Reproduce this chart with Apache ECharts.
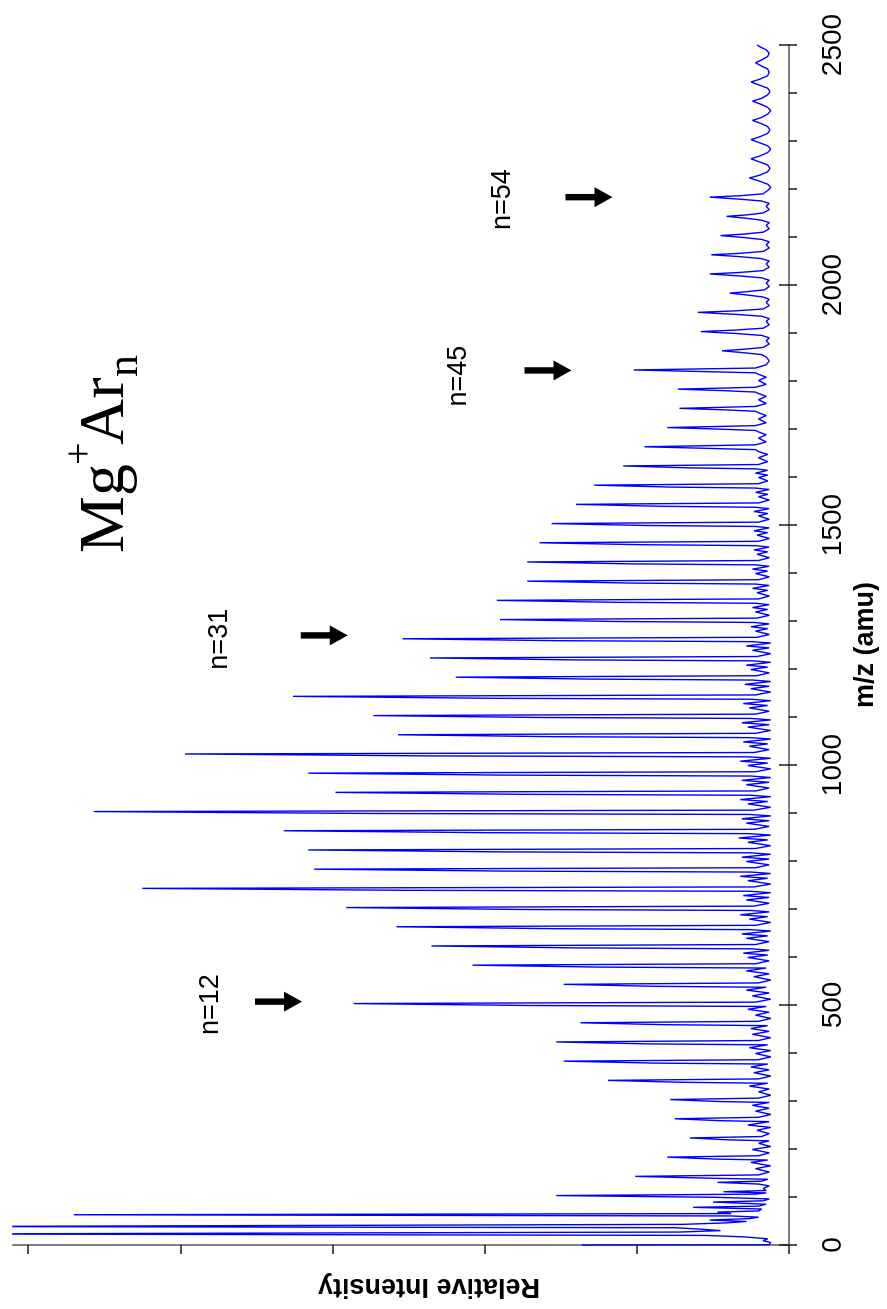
<!DOCTYPE html>
<html>
<head>
<meta charset="utf-8">
<title>Mg+Ar_n mass spectrum</title>
<script src="https://cdn.jsdelivr.net/npm/echarts/dist/echarts.min.js"></script>
<style>
  html, body { margin: 0; padding: 0; background: #fff; overflow: hidden; }
  body { width: 887px; height: 1309px; position: relative; }
  /* the figure is a normal spectrum turned a quarter turn anticlockwise */
  #main {
    position: absolute; left: 0; top: 0;
    width: 1309px; height: 887px;
    transform-origin: 0 0;
    transform: translate(0, 1309px) rotate(-90deg);
  }
</style>
</head>
<body>
<div id="main"></div>
<script>
// m/z axis ticks and intensity ticks (intensity in tick units, axis is unlabeled)
const mzTicks = [0, 500, 1000, 1500, 2000, 2500];
const intensityTicks = [0, 1, 2, 3, 4, 5];

// spectrum trace, [m/z, relative intensity]
const traceLow = [
  [0, 1.36], [0.6, 0.13], [5, 0.12], [9, 0.17], [13, 0.14], [17, 0.3], [20, 0.55],
  [23, 5.6], [25, 5.6], [27, 0.72], [30, 0.45], [33, 0.58], [36, 0.75],
  [38.5, 5.6], [40.5, 5.6], [43, 0.7], [46, 0.42], [49, 0.28], [52, 0.52], [55, 0.26],
  [58, 0.2], [60.5, 0.38], [63, 4.70], [65.5, 0.38], [68.5, 0.47], [71, 0.2], [75, 0.18],
  [78.5, 0.63], [81, 0.2], [85, 0.15], [89.5, 0.5], [92, 0.17], [96, 0.13], [99.5, 0.5],
  [103, 1.53], [106, 0.22], [108.5, 0.15], [111, 0.43], [113.5, 0.15], [118, 0.17],
  [123, 0.13], [127, 0.2], [130.5, 0.47], [133, 0.18], [137, 0.14], [139, 0.5],
  [143, 1.01], [146, 0.2]
];

const traceMidLow = [
  [152, 0.13], [159, 0.22], [165, 0.12], [172, 0.25], [177, 0.14], [179, 0.48], [183, 0.80], [186, 0.2],
  [192, 0.13], [199, 0.24], [205, 0.12], [212, 0.2], [217, 0.13], [219, 0.39], [223, 0.65], [226, 0.18],
  [232, 0.13], [239, 0.21], [245, 0.12], [250, 0.27], [257, 0.13], [259, 0.45], [263, 0.75], [266, 0.2],
  [272, 0.12], [279, 0.22], [285, 0.13], [291, 0.24], [297, 0.13], [299, 0.47], [303, 0.78], [306, 0.2],
  [312, 0.12], [319, 0.2], [325, 0.13], [331, 0.26], [337, 0.14], [339, 0.71], [343, 1.19], [346, 0.2],
  [352, 0.12], [359, 0.23], [365, 0.13], [371, 0.25], [377, 0.14], [379, 0.89], [383, 1.48], [386, 0.2],
  [392, 0.12], [399, 0.22], [405, 0.12], [411, 0.26], [417, 0.14], [419, 0.92], [423, 1.53], [426, 0.2],
  [432, 0.12], [439, 0.24], [445, 0.13], [451, 0.25], [457, 0.14], [459, 0.82], [463, 1.37], [466, 0.2],
  [472, 0.12], [479, 0.22], [485, 0.13], [491, 0.27], [497, 0.15], [499, 1.72], [503, 2.86], [506, 0.22],
  [512, 0.12], [519, 0.24], [525, 0.13], [531, 0.28], [537, 0.15], [539, 0.89], [543, 1.48], [546, 0.2],
  [552, 0.12], [559, 0.23], [565, 0.13], [571, 0.28], [577, 0.15], [579, 1.25], [583, 2.08], [586, 0.22]
];

const traceMid = [
  [592, 0.13], [599, 0.27], [604, 0.14], [608, 0.3], [614, 0.13], [617, 0.24], [619, 1.41], [623, 2.35], [626, 0.22],
  [632, 0.13], [639, 0.28], [644, 0.14], [648, 0.31], [654, 0.12], [657, 0.25], [659, 1.55], [663, 2.58], [666, 0.22],
  [672, 0.12], [679, 0.26], [684, 0.14], [688, 0.32], [694, 0.13], [697, 0.25], [699, 1.75], [703, 2.91], [706, 0.23],
  [712, 0.13], [719, 0.28], [724, 0.13], [728, 0.3], [734, 0.12], [737, 0.26], [739, 2.55], [743, 4.25], [746, 0.23],
  [752, 0.12], [759, 0.27], [764, 0.14], [768, 0.32], [774, 0.12], [777, 0.25], [779, 1.87], [783, 3.12], [786, 0.22],
  [792, 0.13], [799, 0.28], [804, 0.13], [808, 0.31], [814, 0.12], [817, 0.25], [819, 1.90], [823, 3.16], [826, 0.22],
  [832, 0.12], [839, 0.27], [844, 0.14], [848, 0.33], [854, 0.12], [857, 0.26], [859, 1.99], [863, 3.32], [866, 0.23],
  [872, 0.13], [879, 0.28], [884, 0.13], [888, 0.31], [894, 0.12], [897, 0.26], [899, 2.74], [903, 4.57], [906, 0.23],
  [912, 0.12], [919, 0.27], [924, 0.14], [928, 0.32], [934, 0.12], [937, 0.25], [939, 1.79], [943, 2.98], [946, 0.22],
  [952, 0.13], [959, 0.28], [964, 0.13], [968, 0.31], [974, 0.12], [977, 0.25], [979, 1.90], [983, 3.16], [986, 0.22],
  [992, 0.12], [999, 0.27], [1004, 0.14], [1008, 0.32], [1014, 0.12], [1017, 0.26], [1019, 2.38], [1023, 3.97], [1026, 0.23],
  [1032, 0.13], [1039, 0.26], [1044, 0.14], [1048, 0.3], [1054, 0.12], [1057, 0.25], [1059, 1.54], [1063, 2.57], [1066, 0.22],
  [1072, 0.12], [1079, 0.27], [1084, 0.13], [1088, 0.31], [1094, 0.12], [1097, 0.25], [1099, 1.64], [1103, 2.73], [1106, 0.22],
  [1112, 0.13], [1119, 0.26], [1124, 0.14], [1128, 0.3], [1134, 0.12], [1137, 0.25], [1139, 1.96], [1143, 3.26], [1146, 0.22],
  [1152, 0.12], [1159, 0.25], [1164, 0.13], [1168, 0.29], [1174, 0.12], [1177, 0.24], [1179, 1.31], [1183, 2.19], [1186, 0.21],
  [1192, 0.13], [1199, 0.25], [1204, 0.14], [1208, 0.28], [1214, 0.12], [1217, 0.24], [1219, 1.42], [1223, 2.36], [1226, 0.21],
  [1232, 0.12], [1239, 0.24], [1244, 0.13], [1248, 0.28], [1254, 0.12], [1257, 0.24], [1259, 1.52], [1263, 2.54], [1266, 0.21],
  [1272, 0.13], [1279, 0.22], [1284, 0.14], [1288, 0.25], [1294, 0.13], [1297, 0.23], [1299, 1.14], [1303, 1.90], [1306, 0.21],
  [1312, 0.13], [1319, 0.22], [1324, 0.14], [1328, 0.24], [1334, 0.13], [1337, 0.22], [1339, 1.15], [1343, 1.92], [1346, 0.2],
  [1352, 0.13], [1359, 0.21], [1364, 0.14], [1368, 0.24], [1374, 0.13], [1377, 0.22], [1379, 1.03], [1383, 1.72], [1386, 0.2],
  [1392, 0.13], [1399, 0.22], [1404, 0.14], [1408, 0.24], [1414, 0.13], [1417, 0.22], [1419, 1.03], [1423, 1.72], [1426, 0.2],
  [1432, 0.13], [1439, 0.21], [1444, 0.14], [1448, 0.23], [1454, 0.13], [1457, 0.22], [1459, 0.98], [1463, 1.64], [1466, 0.2],
  [1472, 0.13], [1479, 0.21], [1484, 0.14], [1488, 0.23], [1494, 0.13], [1497, 0.22], [1499, 0.94], [1503, 1.56], [1506, 0.2],
  [1512, 0.13], [1519, 0.2], [1524, 0.14], [1528, 0.23], [1534, 0.13], [1537, 0.22], [1539, 0.84], [1543, 1.40], [1546, 0.2],
  [1552, 0.13], [1559, 0.2], [1564, 0.14], [1568, 0.22], [1574, 0.13], [1577, 0.22], [1579, 0.77], [1583, 1.28], [1586, 0.2],
  [1592, 0.14], [1599, 0.2], [1604, 0.14], [1608, 0.22], [1614, 0.14], [1617, 0.22], [1619, 0.65], [1623, 1.09], [1626, 0.2]
];

const traceHigh = [
  [1632, 0.14], [1640, 0.2], [1647, 0.14], [1653, 0.2], [1657, 0.22], [1660, 0.57], [1663, 0.95], [1667, 0.22],
  [1673, 0.15], [1681, 0.2], [1688, 0.15], [1694, 0.2], [1697, 0.22], [1700, 0.48], [1703, 0.80], [1707, 0.22],
  [1713, 0.15], [1721, 0.2], [1728, 0.15], [1734, 0.2], [1737, 0.22], [1740, 0.43], [1743, 0.72], [1747, 0.22],
  [1753, 0.15], [1761, 0.2], [1768, 0.15], [1774, 0.2], [1777, 0.22], [1780, 0.44], [1783, 0.73], [1787, 0.22],
  [1793, 0.15], [1801, 0.2], [1808, 0.15], [1814, 0.2], [1817, 0.22], [1820, 0.61], [1823, 1.02], [1827, 0.22],
  [1834, 0.15], [1842, 0.13], [1850, 0.15], [1855, 0.18], [1859, 0.3], [1863, 0.44], [1866, 0.3], [1870, 0.17],
  [1877, 0.13], [1884, 0.15], [1890, 0.13], [1895, 0.18], [1899, 0.35], [1903, 0.58], [1906, 0.36], [1910, 0.17],
  [1917, 0.13], [1924, 0.15], [1930, 0.13], [1935, 0.18], [1939, 0.36], [1943, 0.60], [1946, 0.36], [1950, 0.17],
  [1957, 0.13], [1964, 0.15], [1970, 0.13], [1975, 0.17], [1979, 0.27], [1983, 0.39], [1986, 0.28], [1990, 0.16],
  [1997, 0.13], [2004, 0.15], [2010, 0.13], [2015, 0.18], [2019, 0.33], [2023, 0.52], [2026, 0.33], [2030, 0.17],
  [2037, 0.13], [2044, 0.15], [2050, 0.13], [2055, 0.18], [2059, 0.32], [2063, 0.51], [2066, 0.32], [2070, 0.17],
  [2077, 0.13], [2084, 0.15], [2090, 0.13], [2095, 0.18], [2099, 0.3], [2103, 0.45], [2106, 0.3], [2110, 0.17],
  [2117, 0.13], [2124, 0.15], [2130, 0.13], [2135, 0.18], [2139, 0.28], [2143, 0.41], [2146, 0.28], [2150, 0.17],
  [2157, 0.13], [2164, 0.15], [2170, 0.13], [2175, 0.18], [2179, 0.33], [2183, 0.52], [2186, 0.32], [2190, 0.17]
];

const traceTail = [
  [2197, 0.14], [2203, 0.12], [2210, 0.14], [2216, 0.19], [2223, 0.26], [2229, 0.19], [2236, 0.14],
  [2243, 0.125], [2250, 0.14], [2256, 0.19], [2263, 0.25], [2269, 0.19], [2276, 0.14],
  [2283, 0.12], [2290, 0.14], [2296, 0.19], [2303, 0.25], [2309, 0.19], [2316, 0.14],
  [2323, 0.125], [2330, 0.14], [2336, 0.18], [2343, 0.24], [2349, 0.18], [2356, 0.14],
  [2363, 0.12], [2370, 0.14], [2376, 0.18], [2383, 0.24], [2389, 0.18], [2396, 0.14],
  [2403, 0.125], [2410, 0.14], [2416, 0.19], [2423, 0.25], [2429, 0.19], [2436, 0.14],
  [2443, 0.13], [2450, 0.14], [2456, 0.18], [2463, 0.22], [2469, 0.18], [2476, 0.14],
  [2483, 0.13], [2490, 0.15], [2496, 0.19], [2500, 0.21]
];

// cluster size annotations: label text, label centre, arrow tip
const clusterLabels = ['n=12', 'n=31', 'n=45', 'n=54'];
const labelMz = [501, 1262, 1810, 2178];
const labelIntensity = [3.80, 3.74, 2.17, 1.88];
const arrowMz = [507, 1270, 1822, 2183];
const arrowTip = [3.20, 2.90, 1.43, 1.16];

const spectrum = traceLow.concat(traceMidLow, traceMid, traceHigh, traceTail);

const sans = '"Liberation Sans", Arial, sans-serif';
const serif = '"Liberation Serif", "Times New Roman", serif';
const tickStyle = { color: '#1a1a1a', width: 1.5 };

const chart = echarts.init(document.getElementById('main'), null, { renderer: 'canvas' });

const option = {
  animation: false,
  backgroundColor: '#ffffff',
  grid: { left: 64, right: 45, top: 13, bottom: 98, containLabel: false },
  xAxis: [
    {
      type: 'value', min: mzTicks[0], max: mzTicks[mzTicks.length - 1], interval: 500,
      position: 'bottom',
      axisLine: { show: true, onZero: false, lineStyle: { color: '#808080', width: 2 } },
      axisTick: { show: true, inside: false, length: 8, lineStyle: tickStyle },
      minorTick: { show: true, splitNumber: 5, length: 8, lineStyle: tickStyle },
      axisLabel: {
        show: true, margin: 30, fontSize: 28, fontFamily: sans, color: '#000',
        formatter: function (v) { return String(v); }
      },
      splitLine: { show: false },
      minorSplitLine: { show: false },
      name: 'm/z (amu)', nameLocation: 'middle', nameGap: 55,
      nameTextStyle: { fontSize: 27, fontWeight: 'bold', fontFamily: sans, color: '#000' }
    },
    {
      // the major ticks cross the axis: this copy draws their inner half
      type: 'value', min: mzTicks[0], max: mzTicks[mzTicks.length - 1], interval: 500,
      position: 'bottom',
      axisLine: { show: false },
      axisTick: { show: true, inside: true, length: 10, lineStyle: tickStyle },
      axisLabel: { show: false },
      splitLine: { show: false }
    }
  ],
  yAxis: {
    type: 'value', min: 0, max: 5.1, position: 'left',
    axisLine: { show: true, onZero: false, lineStyle: { color: '#808080', width: 2 } },
    axisTick: { show: true, inside: false, length: 9, customValues: intensityTicks, lineStyle: tickStyle },
    axisLabel: { show: false, customValues: intensityTicks },
    splitLine: { show: false },
    name: 'Relative Intensity', nameLocation: 'middle', nameGap: 28, nameRotate: 90,
    nameTextStyle: { fontSize: 27, fontWeight: 'bold', fontFamily: sans, color: '#000', padding: [0, 56, 0, 0] }
  },
  graphic: [
    {
      type: 'group', x: 756, y: 0, silent: true,
      children: [
        { type: 'text', x: 0, y: 106, style: { text: 'Mg', fontSize: 64, fontFamily: serif, fill: '#000', align: 'left', verticalAlign: 'middle' } },
        { type: 'text', x: 88, y: 80, style: { text: '+', fontSize: 40, fontFamily: serif, fill: '#000', align: 'left', verticalAlign: 'middle' } },
        { type: 'text', x: 108, y: 106, style: { text: 'Ar', fontSize: 64, fontFamily: serif, fill: '#000', align: 'left', verticalAlign: 'middle' } },
        { type: 'text', x: 176, y: 125, style: { text: 'n', fontSize: 44, fontFamily: serif, fill: '#000', align: 'left', verticalAlign: 'middle' } }
      ]
    }
  ],
  series: [
    {
      name: 'spectrum',
      type: 'line',
      xAxisIndex: 0, yAxisIndex: 0,
      data: spectrum,
      symbol: 'none',
      showSymbol: false,
      clip: true,
      silent: true,
      lineStyle: { color: '#0000ff', width: 1.4 }
    },
    {
      name: 'clusters',
      type: 'custom',
      xAxisIndex: 0, yAxisIndex: 0,
      clip: false,
      silent: true,
      data: arrowMz.map((m, i) => [m, arrowTip[i], labelMz[i], labelIntensity[i]]),
      renderItem: function (params, api) {
        const tip = api.coord([api.value(0), api.value(1)]);
        const txt = api.coord([api.value(2), api.value(3)]);
        const len = 47, head = 18, hw = 10, sw = 3.2;
        const x = tip[0], y = tip[1];
        return {
          type: 'group',
          children: [
            {
              type: 'polygon',
              shape: { points: [[x, y], [x - hw, y - head], [x - sw, y - head], [x - sw, y - len],
                                [x + sw, y - len], [x + sw, y - head], [x + hw, y - head]] },
              style: { fill: '#000' }
            },
            {
              type: 'text', x: txt[0], y: txt[1],
              style: { text: clusterLabels[params.dataIndex], fontSize: 27, fontFamily: sans,
                       fill: '#000', align: 'center', verticalAlign: 'middle' }
            }
          ]
        };
      }
    }
  ]
};

chart.setOption(option);
</script>
</body>
</html>
